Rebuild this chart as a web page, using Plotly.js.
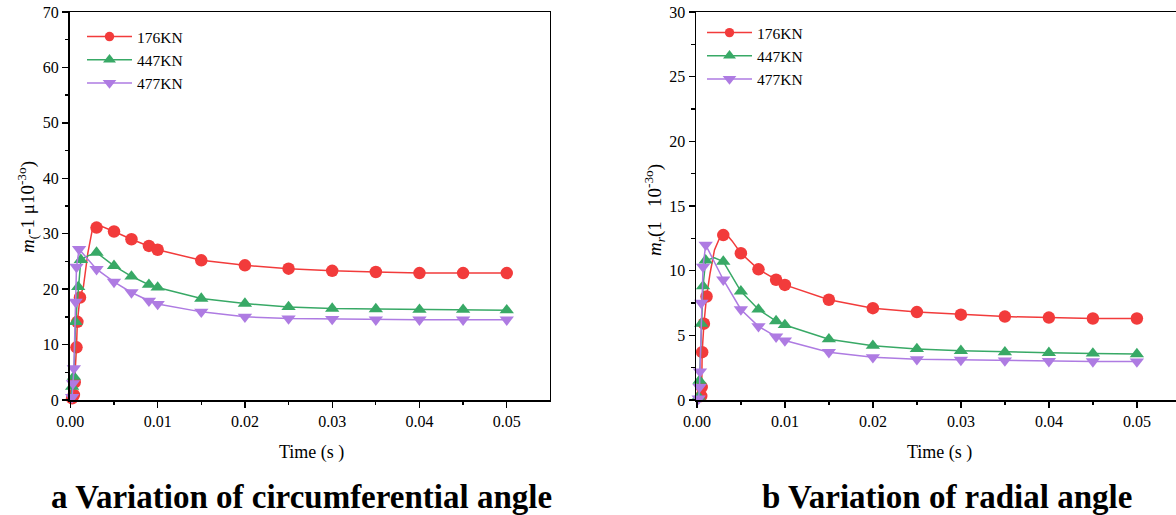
<!DOCTYPE html>
<html><head><meta charset="utf-8">
<script src="https://cdn.plot.ly/plotly-3.0.1.min.js"></script>
<style>html,body{margin:0;padding:0;overflow:hidden;background:#fff}#chart{width:1200px;height:515px}</style>
</head><body><div id="chart"></div>
<script>
const seriesNames = ['176KN', '447KN', '477KN'];
const xTickVals = [0, 0.01, 0.02, 0.03, 0.04, 0.05];
const xTickText = ['0.00', '0.01', '0.02', '0.03', '0.04', '0.05'];

// (a) circumferential angle
const tC176 = [0, 0.0002, 0.0004, 0.0005, 0.0007, 0.0008, 0.0011, 0.0015, 0.002, 0.0025, 0.003, 0.0035, 0.004, 0.005, 0.007, 0.009, 0.010, 0.015, 0.020, 0.025, 0.030, 0.035, 0.040, 0.045, 0.050];
const yC176 = [0, 0.3, 0.9, 3.2, 9.5, 14.1, 18.5, 20.5, 26.5, 30.6, 31.1, 31.4, 31.1, 30.4, 29.0, 27.8, 27.1, 25.2, 24.3, 23.7, 23.3, 23.1, 22.9, 22.9, 22.9];
const unmarkedC176 = [0, 0.0015, 0.002, 0.0025, 0.0035, 0.004];

const tC447 = [0, 0.0002, 0.0004, 0.0006, 0.0009, 0.0012, 0.002, 0.003, 0.005, 0.007, 0.009, 0.010, 0.015, 0.020, 0.025, 0.030, 0.035, 0.040, 0.045, 0.050];
const yC447 = [0, 2.4, 4.2, 14.1, 20.4, 25.3, 26.0, 26.6, 24.2, 22.3, 20.8, 20.3, 18.3, 17.4, 16.8, 16.5, 16.4, 16.3, 16.3, 16.2];
const unmarkedC447 = [0, 0.002];

const tC477 = [0, 0.0002, 0.0003, 0.0004, 0.0006, 0.0007, 0.001, 0.003, 0.005, 0.007, 0.009, 0.010, 0.015, 0.020, 0.025, 0.030, 0.035, 0.040, 0.045, 0.050];
const yC477 = [0, 0.5, 3.0, 5.7, 17.7, 24.0, 27.2, 23.6, 21.3, 19.4, 17.9, 17.3, 15.9, 15.0, 14.7, 14.6, 14.5, 14.5, 14.5, 14.5];
const unmarkedC477 = [0];

// (b) radial angle
const tR176 = [0, 0.0005, 0.00055, 0.0006, 0.0008, 0.0011, 0.0015, 0.002, 0.0025, 0.003, 0.0035, 0.004, 0.005, 0.007, 0.009, 0.010, 0.015, 0.020, 0.025, 0.030, 0.035, 0.040, 0.045, 0.050];
const yR176 = [0, 0.3, 1.0, 3.7, 5.9, 8.0, 9.8, 11.6, 12.4, 12.75, 12.7, 12.3, 11.35, 10.1, 9.3, 8.9, 7.75, 7.1, 6.8, 6.6, 6.45, 6.37, 6.3, 6.3];
const unmarkedR176 = [0, 0.0015, 0.002, 0.0025, 0.0035, 0.004];

const tR447 = [0, 0.0002, 0.0003, 0.0005, 0.0007, 0.001, 0.002, 0.003, 0.005, 0.007, 0.009, 0.010, 0.015, 0.020, 0.025, 0.030, 0.035, 0.040, 0.045, 0.050];
const yR447 = [0, 0.26, 1.5, 5.9, 8.8, 10.8, 11.0, 10.7, 8.4, 7.0, 6.1, 5.8, 4.7, 4.2, 3.95, 3.8, 3.7, 3.65, 3.6, 3.55];
const unmarkedR447 = [0, 0.002];

const tR477 = [0, 0.0002, 0.0003, 0.00035, 0.0005, 0.0007, 0.001, 0.003, 0.005, 0.007, 0.009, 0.010, 0.015, 0.020, 0.025, 0.030, 0.035, 0.040, 0.045, 0.050];
const yR477 = [0, 0.1, 1.0, 2.2, 7.5, 10.3, 12.0, 9.3, 7.0, 5.7, 4.9, 4.6, 3.7, 3.3, 3.15, 3.1, 3.05, 3.0, 2.98, 2.97];
const unmarkedR477 = [0];

const colors = ['#F23B3B', '#38A966', '#AE7BE2'];
const symbols = ['circle', 'triangle-up', 'triangle-down'];
const FONT = '"Liberation Serif"';
const W = 1200, H = 515;

function mk(t, y, unmarked, i, xa, ya, leg) {
  return {
    x: t, y: y, xaxis: xa, yaxis: ya, legend: leg,
    name: seriesNames[i], mode: 'lines+markers', cliponaxis: false,
    line: {color: colors[i], width: 1.5},
    marker: {color: colors[i], symbol: symbols[i], opacity: 1, line: {width: 0},
             size: t.map(v => unmarked.includes(v) ? 0 : 12.5)}
  };
}

const data = [
  mk(tC176, yC176, unmarkedC176, 0, 'x', 'y', 'legend'),
  mk(tC447, yC447, unmarkedC447, 1, 'x', 'y', 'legend'),
  mk(tC477, yC477, unmarkedC477, 2, 'x', 'y', 'legend'),
  mk(tR176, yR176, unmarkedR176, 0, 'x2', 'y2', 'legend2'),
  mk(tR447, yR447, unmarkedR447, 1, 'x2', 'y2', 'legend2'),
  mk(tR477, yR477, unmarkedR477, 2, 'x2', 'y2', 'legend2')
];

const yDom = [(H - 400) / H, (H - 12) / H];
function xAx(dom, anchor) {
  return {
    domain: dom, anchor: anchor, range: [-0.0001, 0.0549],
    tickmode: 'array', tickvals: xTickVals, ticktext: xTickText,
    ticks: 'outside', ticklen: 6, tickwidth: 1.3, tickcolor: '#000',
    minor: {tickmode: 'linear', tick0: 0, dtick: 0.005, ticks: 'outside', ticklen: 3.5, tickwidth: 1.3, tickcolor: '#000'},
    showline: true, linecolor: '#000', linewidth: 1.5, mirror: true,
    showgrid: false, zeroline: false,
    tickfont: {family: FONT, size: 16, color: '#000'}
  };
}
function yAx(anchor, max, dt) {
  return {
    domain: yDom, anchor: anchor, range: [0, max], dtick: dt, tick0: 0,
    ticks: 'outside', ticklen: 6, tickwidth: 1.3, tickcolor: '#000',
    minor: {tickmode: 'linear', tick0: 0, dtick: dt / 2, ticks: 'outside', ticklen: 3.5, tickwidth: 1.3, tickcolor: '#000'},
    showline: true, linecolor: '#000', linewidth: 1.5, mirror: true,
    showgrid: false, zeroline: false,
    tickfont: {family: FONT, size: 16, color: '#000'}
  };
}
function legendAt(xpx, ypx) {
  return {
    x: xpx / W, y: (H - ypx) / H, xanchor: 'left', yanchor: 'top',
    bgcolor: 'rgba(0,0,0,0)', borderwidth: 0, tracegroupgap: 0,
    font: {family: FONT, size: 15.5, color: '#000'}, itemwidth: 45
  };
}
function ann(text, xpx, ypx, size, bold, angle) {
  return {
    text: bold ? '<b>' + text + '</b>' : text, xref: 'paper', yref: 'paper',
    x: xpx / W, y: (H - ypx) / H, xanchor: 'center', yanchor: 'middle',
    showarrow: false, textangle: angle || 0,
    font: {family: FONT, size: size, color: '#000'}
  };
}

const layout = {
  width: W, height: H, margin: {l: 0, r: 0, t: 0, b: 0},
  paper_bgcolor: '#fff', plot_bgcolor: '#fff', showlegend: true,
  font: {family: FONT},
  xaxis: xAx([69.5 / W, 549.5 / W], 'y'),
  yaxis: yAx('x', 70, 10),
  xaxis2: xAx([696 / W, 1180 / W], 'y2'),
  yaxis2: yAx('x2', 30, 5),
  legend: legendAt(82, 20),
  legend2: legendAt(702, 16),
  annotations: [
    ann('<i>m</i><sub>(</sub>-1 μ10<sup>-3</sup><sup>o</sup>)', 27, 207, 19, false, -90),
    ann('<i>m</i><sub><i>r</i></sub>(1&nbsp;&nbsp;&nbsp;10<sup>-3</sup><sup>o</sup>)', 654, 210, 19, false, -90),
    ann('Time (s )', 311, 452, 18, false),
    ann('Time (s )', 939, 452, 18, false),
    ann('a Variation of circumferential angle', 301, 497, 33, true),
    ann('b Variation of radial angle', 947, 497, 33, true)
  ]
};

Plotly.newPlot('chart', data, layout, {displayModeBar: false, staticPlot: true});
</script>
</body></html>
